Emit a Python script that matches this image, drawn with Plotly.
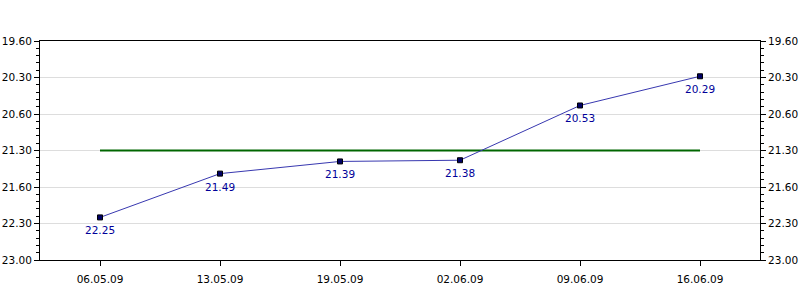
import plotly.graph_objects as go

categories = ["06.05.09", "13.05.09", "19.05.09", "02.06.09", "09.06.09", "16.06.09"]
values = ["22.25", "21.49", "21.39", "21.38", "20.53", "20.29"]
threshold = "21.30"
tick_labels = ["19.60", "20.30", "20.60", "21.30", "21.60", "22.30", "23.00"]


def to_sec(s):
    # values are minutes.seconds
    m, sec = s.split(".")
    return int(m) * 60 + int(sec)


y_vals = [to_sec(v) for v in values]
tick_vals = [to_sec(t) for t in tick_labels]
thr = to_sec(threshold)
y_range = [tick_vals[-1], tick_vals[0]]

font = dict(family="DejaVu Sans", size=10.5, color="black")

fig = go.Figure()
fig.add_trace(go.Scatter(
    x=categories, y=[thr] * len(categories), mode="lines",
    line=dict(color="#006600", width=2), hoverinfo="skip", showlegend=False))
fig.add_trace(go.Scatter(
    x=categories, y=y_vals, mode="lines+markers",
    line=dict(color="#3838b0", width=1),
    marker=dict(symbol="square", size=5, color="#000066",
                line=dict(color="#000000", width=1)),
    showlegend=False))
fig.add_trace(go.Scatter(
    x=categories, y=y_vals, yaxis="y2", mode="lines",
    line=dict(width=0), opacity=0, hoverinfo="skip", showlegend=False))

for c, yv, label in zip(categories, y_vals, values):
    fig.add_annotation(x=c, y=yv, text=label, showarrow=False,
                       yshift=-13, xshift=0,
                       font=dict(family="DejaVu Sans", size=10.5, color="#000099"))

yax = dict(
    range=y_range, tickmode="array", tickvals=tick_vals, ticktext=tick_labels,
    ticks="outside", ticklen=5, tickcolor="black", tickwidth=1,
    showgrid=True, gridcolor="#dddddd", gridwidth=1,
    showline=True, linecolor="black", linewidth=1,
    zeroline=False, tickfont=font, automargin=False,
    minor=dict(dtick=6, tick0=tick_vals[0], ticks="outside", ticklen=3,
               tickcolor="black", tickwidth=1, showgrid=False),
)

fig.update_layout(
    width=800, height=300,
    margin=dict(l=40, r=40, t=41, b=40),
    paper_bgcolor="white", plot_bgcolor="white",
    font=font,
    xaxis=dict(
        type="category", range=[-0.5, len(categories) - 0.5],
        ticks="outside", ticklen=5, tickcolor="black",
        showgrid=False, showline=True, linecolor="black", linewidth=1,
        mirror=True, tickfont=font, zeroline=False, automargin=False,
        ticklabelstandoff=4,
    ),
    yaxis=yax,
    yaxis2=dict(yax, overlaying="y", side="right", anchor="x", showgrid=False),
)

fig.write_html("out.html")
